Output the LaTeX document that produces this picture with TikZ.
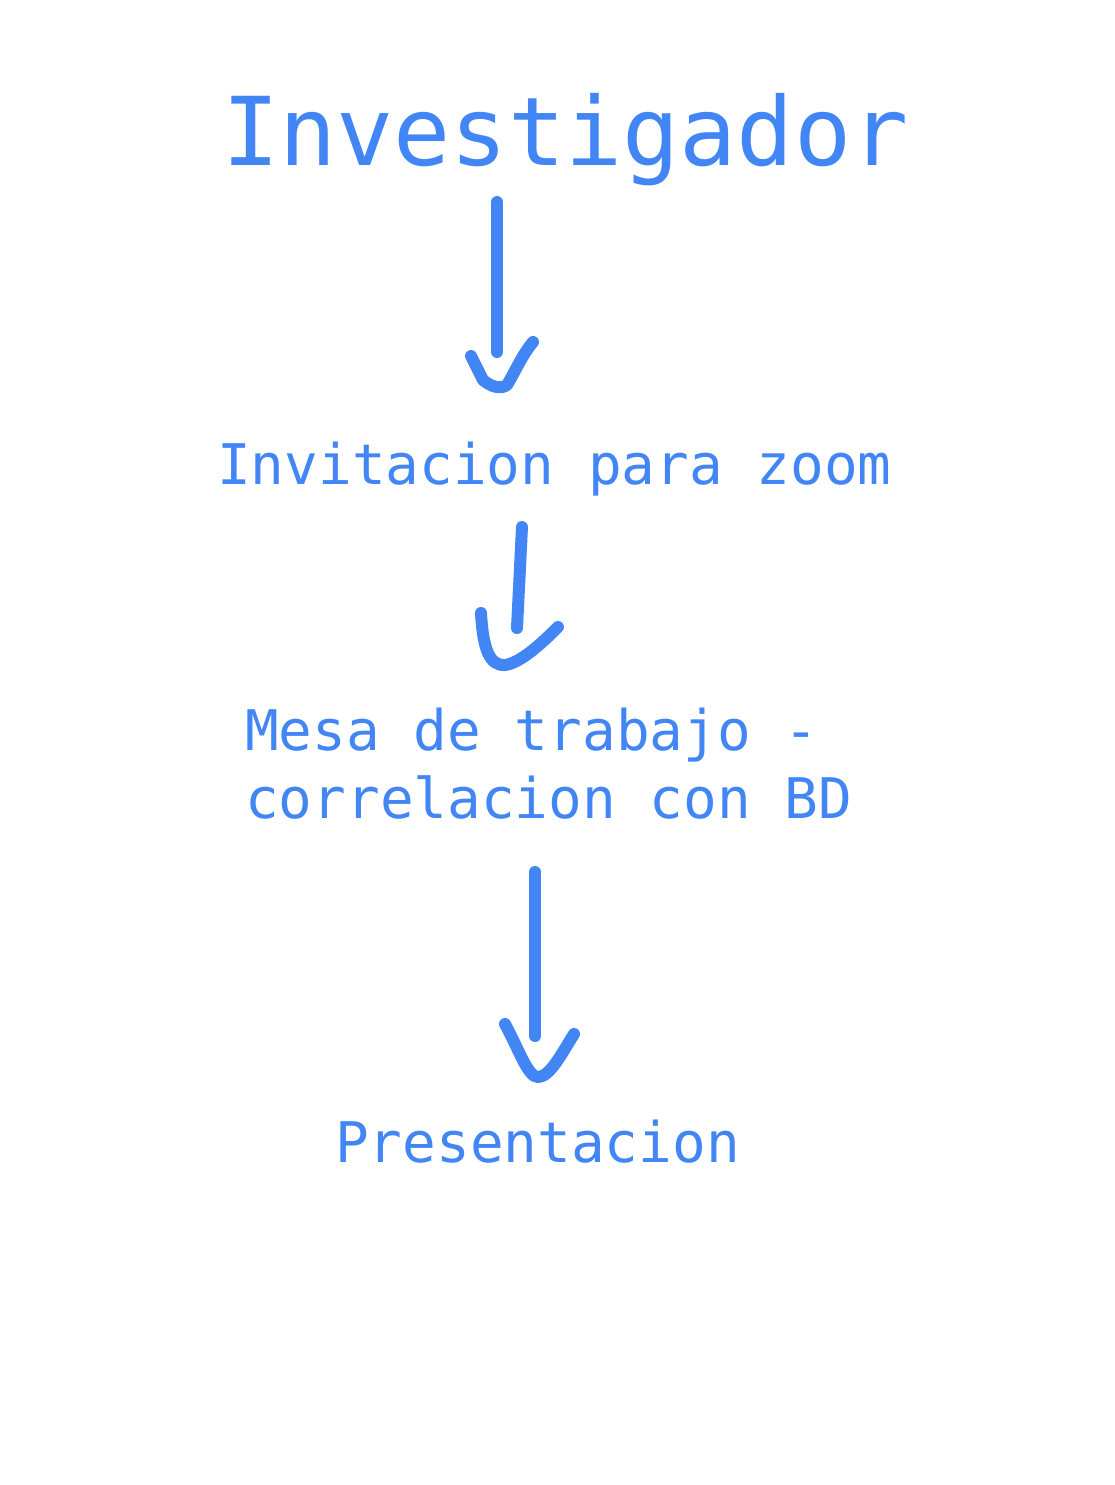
\documentclass[tikz,border=0pt]{standalone}
\usepackage{fontspec}
\setmonofont{DejaVu Sans Mono}
\usepackage{xcolor}
\usepackage{tikz}
\usetikzlibrary{positioning}
\definecolor{penblue}{HTML}{4285F4}

\begin{document}
\begin{tikzpicture}[
    x=1pt, y=-1pt,
    title/.style={anchor=base west, inner sep=0pt, text=penblue, font=\ttfamily\fontsize{95}{110}\selectfont},
    label/.style={anchor=base west, inner sep=0pt, text=penblue, align=left, font=\ttfamily\fontsize{56}{68}\selectfont},
    pen/.style={draw=penblue, line width=12pt, line cap=round, line join=round}
]
\useasboundingbox (0,0) rectangle (1114,1485);

% Steps, top to bottom.
\node[title] (inv) at (222,165) {Investigador};
\node[label] (invit) at (217,484) {Invitacion para zoom};
\node[label] (mesa) at (245,818) {Mesa de trabajo -\\correlacion con BD};
\node[label] (pres) at (335,1162) {Presentacion};

% Hand-drawn arrow ends.
\coordinate (a1s) at (497,202);
\coordinate (a1e) at (497,352);
\coordinate (a2s) at (522,527);
\coordinate (a2e) at (517,628);
\coordinate (a3s) at (535,872);
\coordinate (a3e) at (535,1036);

% Shafts.
\draw[pen] (a1s) -- (a1e);
\draw[pen] (a2s) -- (a2e);
\draw[pen] (a3s) -- (a3e);

% Hooks.
\draw[pen] (471,356) -- (483,380) .. controls (490,386) and (500,390) .. (507,385)
    .. controls (515,372) and (522,355) .. (533,342);
\draw[pen] (481,613) .. controls (483,650) and (490,666) .. (505,665)
    .. controls (520,663) and (540,645) .. (558,627);
\draw[pen] (505,1024) .. controls (520,1052) and (528,1077) .. (538,1077)
    .. controls (550,1077) and (562,1053) .. (574,1034);

\end{tikzpicture}
\end{document}
